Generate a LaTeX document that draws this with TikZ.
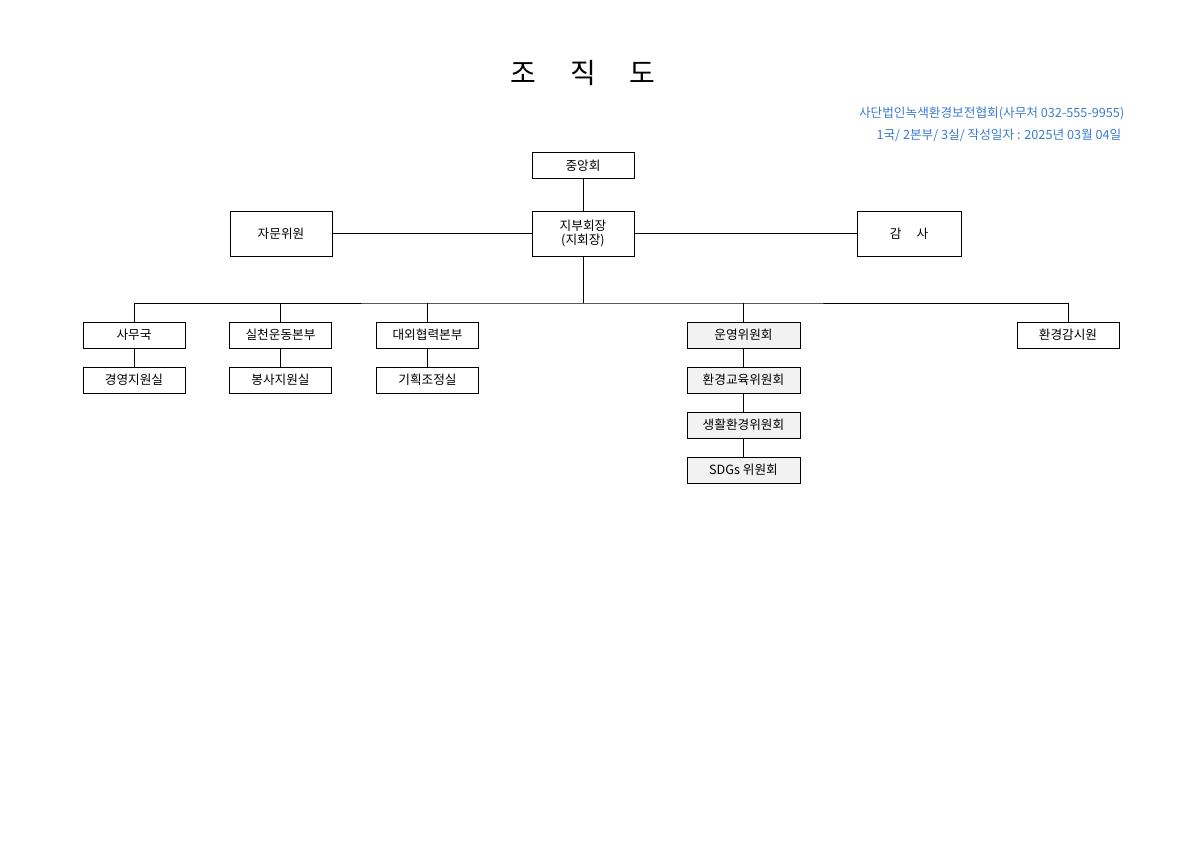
\documentclass[tikz,border=0pt]{standalone}
\usepackage{fontspec}
\setmainfont{Noto Sans CJK KR}
\usepackage{xcolor}
\definecolor{infoblue}{RGB}{58,125,205}
\definecolor{boxgray}{RGB}{242,242,242}

\begin{document}
\begin{tikzpicture}[x=0.75pt,y=-0.75pt,
  orgbox/.style={draw, fill=white, minimum width=76.5pt, minimum height=19.5pt,
    inner sep=0pt, font=\fontsize{9.5}{11}\selectfont},
  bigbox/.style={orgbox, minimum height=33.75pt},
  grybox/.style={orgbox, fill=boxgray, minimum width=84.75pt}]
  \useasboundingbox (0,0) rectangle (1200,848);

  % Title and info
  \node (title) at (583,73) {\fontsize{21}{24}\selectfont 조\hspace{1.2em}직\hspace{1.2em}도};
  \node[anchor=east, text=infoblue, font=\fontsize{9.5}{11}\selectfont] (info1) at (1129,113) {사단법인녹색환경보전협회(사무처 032-555-9955)};
  \node[anchor=east, text=infoblue, font=\fontsize{9.5}{11}\selectfont] (info2) at (1126,135) {1국/ 2본부/ 3실/ 작성일자 : 2025년 03월 04일};

  % Top level
  \node[orgbox] (central) at (583,165.5) {중앙회};
  \node[bigbox, align=center] (chief) at (583,233.5) {지부회장\\(지회장)};
  \node[bigbox] (advisor) at (281,233.5) {자문위원};
  \node[bigbox, minimum width=78pt] (audit) at (909,233.5) {감\hspace{1.2em}사};

  % Divisions
  \node[orgbox] (office) at (134,335) {사무국};
  \node[orgbox] (action) at (280.5,335) {실천운동본부};
  \node[orgbox] (coop) at (427.5,335) {대외협력본부};
  \node[grybox] (oper) at (743.5,335) {운영위원회};
  \node[orgbox] (watch) at (1068,335) {환경감시원};

  \node[orgbox] (manage) at (134,380) {경영지원실};
  \node[orgbox] (service) at (280.5,380) {봉사지원실};
  \node[orgbox] (plan) at (427.5,380) {기획조정실};
  \node[grybox] (educ) at (743.5,380) {환경교육위원회};
  \node[grybox] (life) at (743.5,425) {생활환경위원회};
  \node[grybox] (sdgs) at (743.5,470) {SDGs 위원회};

  % Connectors
  \coordinate (bus) at (583,303);
  \draw (central) -- (chief);
  \draw (advisor) -- (chief) -- (audit);
  \draw (chief) -- (bus);
  \draw (office.north) |- (bus) -| (watch.north);
  \foreach \n in {action,coop,oper}
    \draw (\n.north) -- (\n.north |- bus);
  \draw (office) -- (manage);
  \draw (action) -- (service);
  \draw (coop) -- (plan);
  \draw (oper) -- (educ) -- (life) -- (sdgs);
\end{tikzpicture}
\end{document}
